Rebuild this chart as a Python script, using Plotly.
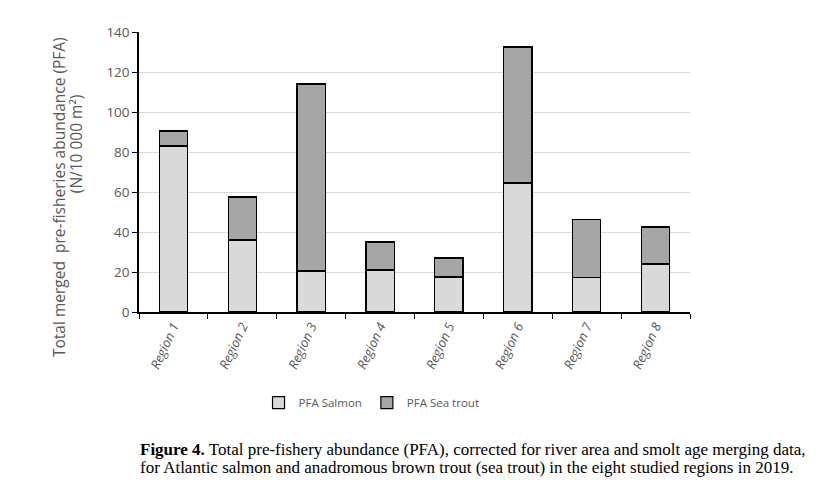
import plotly.graph_objects as go

regions = ["Region 1", "Region 2", "Region 3", "Region 4",
           "Region 5", "Region 6", "Region 7", "Region 8"]
pfa_salmon = [83.0, 36.0, 20.5, 21.0, 17.5, 64.5, 17.3, 24.0]
pfa_sea_trout = [7.5, 21.5, 93.5, 14.0, 9.5, 68.0, 29.0, 18.5]

axis_grey = "#595959"

fig = go.Figure()
fig.add_trace(go.Bar(
    x=regions, y=pfa_salmon, name="PFA Salmon",
    marker=dict(color="#d9d9d9", line=dict(color="black", width=1.2)),
))
fig.add_trace(go.Bar(
    x=regions, y=pfa_sea_trout, name="PFA Sea trout",
    marker=dict(color="#a6a6a6", line=dict(color="black", width=1.2)),
))

fig.update_layout(
    barmode="stack",
    bargap=0.59,
    width=832, height=489,
    margin=dict(l=131, r=150, t=24, b=185),
    plot_bgcolor="white",
    paper_bgcolor="white",
    font=dict(family="Open Sans", color=axis_grey, size=13),
    showlegend=True,
    legend=dict(
        orientation="h", x=0.422, y=-0.272, xanchor="center", yanchor="top",
        font=dict(size=11.5, color=axis_grey), traceorder="normal",
        itemwidth=30,
    ),
    xaxis=dict(
        showline=True, linecolor="black", linewidth=1.5,
        ticks="outside", ticklen=5, tickcolor="black", tickson="boundaries",
        tickangle=-65, tickfont=dict(size=13, style="italic", color=axis_grey),
        showgrid=False,
    ),
    yaxis=dict(
        range=[0, 140], dtick=20,
        showline=True, linecolor="black", linewidth=1.5,
        ticks="outside", ticklen=5, tickcolor="black",
        gridcolor="#d9d9d9", gridwidth=1,
        tickfont=dict(size=13.5, color=axis_grey),
        zeroline=False,
    ),
)

# y-axis title: two lines placed separately, as in the original
fig.add_annotation(
    xref="paper", yref="paper", x=-0.145, y=0.411, textangle=-90,
    xanchor="center", yanchor="middle",
    showarrow=False, text="Total merged  pre-fisheries abundance (PFA)",
    font=dict(size=15.5, color=axis_grey),
)
fig.add_annotation(
    xref="paper", yref="paper", x=-0.114, y=0.6, textangle=-90,
    xanchor="center", yanchor="middle",
    showarrow=False, text="(N/10 000 m²)",
    font=dict(size=15.5, color=axis_grey),
)

caption_font = dict(family="Liberation Serif", size=17, color="black")
fig.add_annotation(
    xref="paper", yref="paper", x=-0.002, y=-0.49, xanchor="left", yanchor="middle",
    showarrow=False, font=caption_font,
    text="<b>Figure 4.</b> Total pre-fishery abundance (PFA), corrected for river area and smolt age merging data,",
)
fig.add_annotation(
    xref="paper", yref="paper", x=-0.002, y=-0.554, xanchor="left", yanchor="middle",
    showarrow=False, font=caption_font,
    text="for Atlantic salmon and anadromous brown trout (sea trout) in the eight studied regions in 2019.",
)

fig.write_html("out.html")
